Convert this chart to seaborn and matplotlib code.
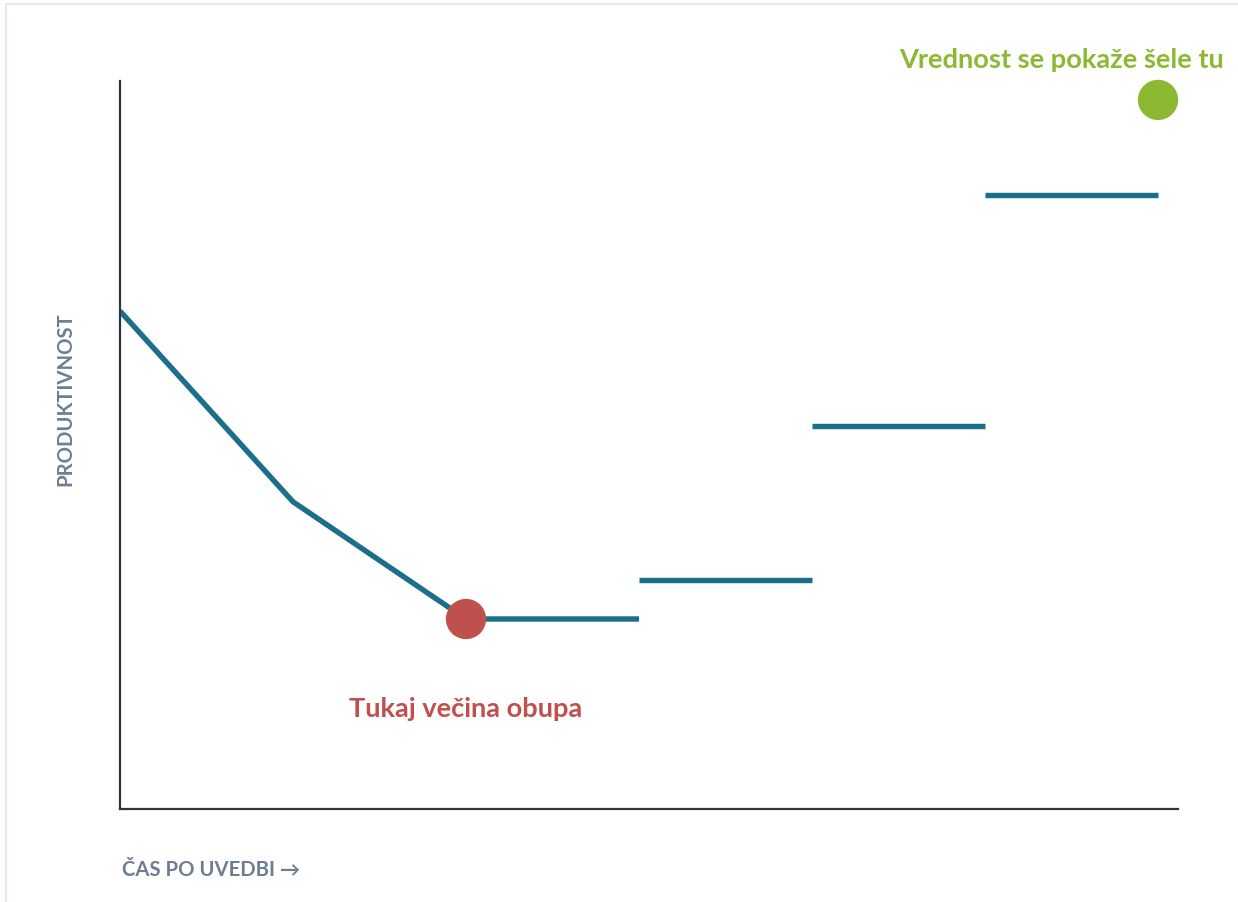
import matplotlib
matplotlib.use("Agg")
import matplotlib.pyplot as plt
from matplotlib.patches import Rectangle
import seaborn as sns
import pandas as pd

# Data
curve_x = [0, 1, 2, 3]
curve_y = [68.4, 42.2, 26.1, 26.1]
step_x_start = [3, 4, 5]
step_x_end = [4, 5, 6]
step_y = [31.5, 52.6, 84.3]
low_point = (2, 26.1)
high_point = (6, 97.4)
x_label = "ČAS PO UVEDBI →"
y_label = "PRODUKTIVNOST"
low_text = "Tukaj večina obupa"
high_text = "Vrednost se pokaže šele tu"

LINE = "#1B6F8A"
RED = "#C0504D"
GREEN = "#8CB832"
GREY = "#6F7D93"
SPINE = "#2F3542"

sns.set_theme(style="white")
plt.rcParams["font.family"] = ["Lato", "DejaVu Sans"]

fig = plt.figure(figsize=(12.38, 9.03), dpi=100)
ax = fig.add_axes([120/1238, (903-810)/903, (1178-120)/1238, (810-82)/903])

rows = []
for xv, yv in zip(curve_x, curve_y):
    rows.append({"seg": 0, "x": xv, "y": yv})
for i, (a, b, yv) in enumerate(zip(step_x_start, step_x_end, step_y), start=1):
    rows.append({"seg": i, "x": a, "y": yv})
    rows.append({"seg": i, "x": b, "y": yv})
df = pd.DataFrame(rows)

for seg, g in df.groupby("seg"):
    sns.lineplot(data=g, x="x", y="y", ax=ax, color=LINE, linewidth=3.9,
                 estimator=None, sort=False, solid_capstyle="butt", solid_joinstyle="round")

pts = pd.DataFrame({"x": [low_point[0], high_point[0]], "y": [low_point[1], high_point[1]],
                    "c": ["low", "high"]})
sns.scatterplot(data=pts, x="x", y="y", hue="c", palette={"low": RED, "high": GREEN},
                s=29**2, linewidth=0, ax=ax, legend=False, zorder=5, clip_on=False)

ax.set_xlim(0, 1058/173)
ax.set_ylim(0, 100)
ax.set_xticks([])
ax.set_yticks([])
ax.set_xlabel("")
ax.set_ylabel("")
for s in ["top", "right"]:
    ax.spines[s].set_visible(False)
for s in ["left", "bottom"]:
    ax.spines[s].set_color(SPINE)
    ax.spines[s].set_linewidth(1.6)

ax.text(2, 13.9, low_text, color=RED, fontsize=19.6, fontweight="bold",
        ha="center", va="center")
ax.text(5.44, 103.0, high_text, color=GREEN, fontsize=19.6, fontweight="bold",
        ha="center", va="center", clip_on=False)

fig.text(122/1238, 1 - 870/903, x_label, color=GREY, fontsize=14.6, fontweight="bold",
         ha="left", va="center")
fig.text(65/1238, 1 - 399/903, y_label, color=GREY, fontsize=14.6, fontweight="bold",
         ha="center", va="center", rotation=90)

# light card border
fig.patches.append(Rectangle((6/1238, -0.05), 1.2, 1 - 5/903 + 0.05, transform=fig.transFigure,
                             fill=False, edgecolor="#E4E8F0", linewidth=1.5))

fig.savefig("out.png", dpi=100)
